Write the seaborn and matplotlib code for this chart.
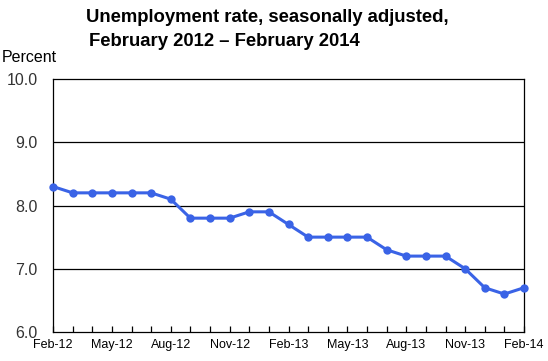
import pandas as pd
import seaborn as sns
import matplotlib.pyplot as plt

# monthly unemployment rate, Feb 2012 .. Feb 2014
months = ['Feb-12', 'Mar-12', 'Apr-12', 'May-12', 'Jun-12', 'Jul-12', 'Aug-12',
          'Sep-12', 'Oct-12', 'Nov-12', 'Dec-12', 'Jan-13', 'Feb-13', 'Mar-13',
          'Apr-13', 'May-13', 'Jun-13', 'Jul-13', 'Aug-13', 'Sep-13', 'Oct-13',
          'Nov-13', 'Dec-13', 'Jan-14', 'Feb-14']
rate = [8.3, 8.2, 8.2, 8.2, 8.2, 8.2, 8.1, 7.8, 7.8, 7.8, 7.9, 7.9, 7.7,
        7.5, 7.5, 7.5, 7.5, 7.3, 7.2, 7.2, 7.2, 7.0, 6.7, 6.6, 6.7]
y_ticks = [6.0, 7.0, 8.0, 9.0, 10.0]

df = pd.DataFrame({'month': months, 'rate': rate})
df['pos'] = range(len(df))

sns.set_style('white')
plt.rcParams['font.family'] = ['Liberation Sans', 'DejaVu Sans']
plt.rcParams['text.color'] = 'black'
plt.rcParams['xtick.color'] = 'black'

fig = plt.figure(figsize=(5.48, 3.61), dpi=100)
ax = fig.add_axes([53 / 548, 1 - 332 / 361, 471 / 548, 253 / 361])

sns.lineplot(data=df, x='pos', y='rate', ax=ax, color='#3a63e6', linewidth=2.2,
             marker='o', markersize=6, markeredgewidth=0, clip_on=False, zorder=3)

ax.set_xlim(0, len(df) - 1)
ax.set_ylim(6.0, 10.0)
for yv in y_ticks[1:-1]:
    ax.axhline(yv, color='black', linewidth=0.9, zorder=0)

ax.set_yticks(y_ticks)
ax.set_yticklabels([f'{v:.1f}' for v in y_ticks], fontsize=11.5, color='#333333')
ax.tick_params(axis='y', length=0, pad=11)

ax.set_xticks(df['pos'][::3])
ax.set_xticklabels(df['month'][::3], fontsize=9, color='black')
ax.set_xticks(df['pos'], minor=True)
ax.tick_params(axis='x', which='both', direction='in', length=4, width=0.9,
               color='black', pad=5, bottom=True)
ax.set_xlabel('')
ax.set_ylabel('')

for s in ax.spines.values():
    s.set_color('black')
    s.set_linewidth(0.9)
    s.set_zorder(2)

fig.text(86 / 548, 1 - 18 / 361, 'Unemployment rate, seasonally adjusted,',
         fontsize=13.3, fontweight='bold', va='center', ha='left')
fig.text(89 / 548, 1 - 42 / 361, 'February 2012 \u2013 February 2014',
         fontsize=13.3, fontweight='bold', va='center', ha='left')
fig.text(2 / 548, 1 - 58 / 361, 'Percent', fontsize=11.5, va='center', ha='left')

fig.savefig('out.png', dpi=100)
